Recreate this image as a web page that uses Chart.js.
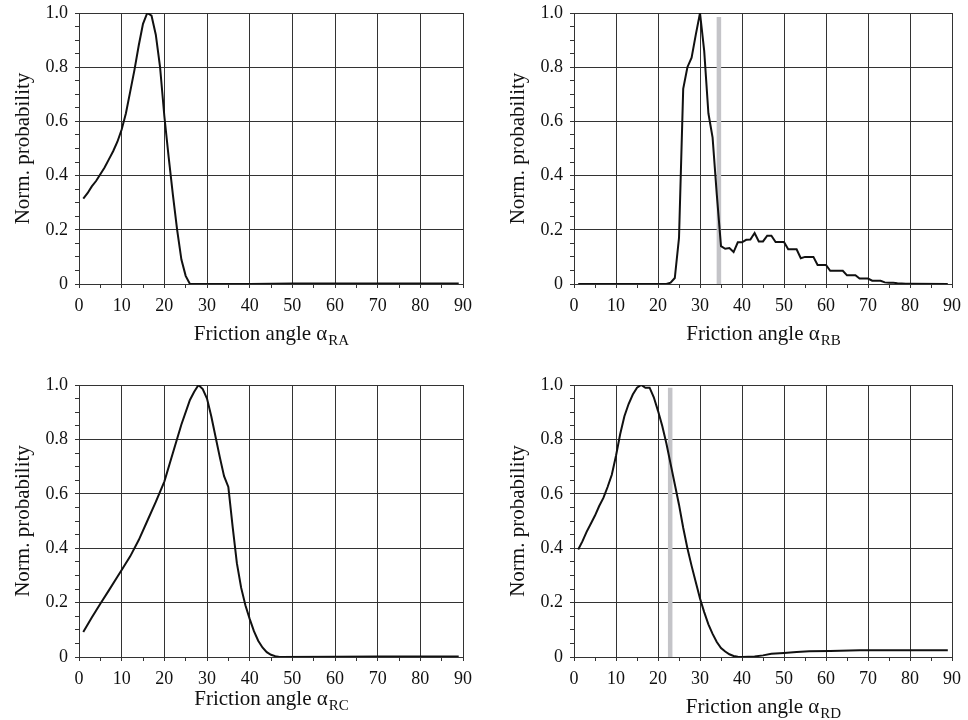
<!DOCTYPE html>
<html>
<head>
<meta charset="utf-8">
<script src="https://cdn.jsdelivr.net/npm/chart.js@4.4.1/dist/chart.umd.min.js"></script>
<style>
  body { margin: 0; background: #fff; }
  #wrap { position: relative; width: 968px; height: 720px; }
  canvas { position: absolute; }
</style>
</head>
<body>
<div id="wrap">
  <canvas id="cA"></canvas>
  <canvas id="cB"></canvas>
  <canvas id="cC"></canvas>
  <canvas id="cD"></canvas>
</div>
<script>
// data
const angleA = [1, 2, 3, 4, 5, 6, 7, 8, 9, 10, 11, 12, 13, 14, 15, 16, 17, 18, 19, 20, 21, 22, 23, 24, 25, 26, 30, 40, 50, 60, 70, 80, 89]
const probA = [0.315, 0.335, 0.36, 0.38, 0.405, 0.43, 0.46, 0.49, 0.525, 0.57, 0.63, 0.71, 0.79, 0.88, 0.96, 1.0, 0.99, 0.92, 0.80, 0.62, 0.47, 0.33, 0.20, 0.09, 0.03, 0, 0, 0, 0.002, 0.002, 0.002, 0.002, 0.002]

const angleB = [1, 22, 23, 24, 25, 26, 27, 28, 29, 30, 31, 32, 33, 34, 35, 36, 37, 38, 39, 40, 41, 42, 43, 44, 45, 46, 47, 48, 49, 50, 51, 52, 53, 54, 55, 56, 57, 58, 59, 60, 61, 62, 63, 64, 65, 66, 67, 68, 69, 70, 71, 72, 73, 74, 75, 76, 77, 78, 79, 80, 89]
const probB = [0, 0, 0.005, 0.022, 0.17, 0.72, 0.80, 0.835, 0.92, 1.0, 0.86, 0.63, 0.54, 0.33, 0.14, 0.13, 0.133, 0.118, 0.154, 0.154, 0.163, 0.164, 0.188, 0.157, 0.157, 0.178, 0.178, 0.155, 0.155, 0.155, 0.128, 0.128, 0.128, 0.095, 0.10, 0.10, 0.10, 0.07, 0.07, 0.07, 0.049, 0.049, 0.049, 0.049, 0.032, 0.032, 0.032, 0.02, 0.02, 0.02, 0.012, 0.012, 0.012, 0.006, 0.005, 0.005, 0.003, 0.002, 0.001, 0.001, 0]

const angleC = [1, 3, 5, 7, 9, 10, 12, 14, 16, 18, 20, 22, 24, 26, 27, 28, 29, 30, 31, 32, 33, 34, 35, 36, 37, 38, 39, 40, 41, 42, 43, 44, 45, 46, 47, 60, 70, 89]
const probC = [0.092, 0.145, 0.196, 0.245, 0.295, 0.32, 0.37, 0.43, 0.50, 0.57, 0.645, 0.75, 0.855, 0.945, 0.975, 1.0, 0.985, 0.95, 0.885, 0.81, 0.735, 0.665, 0.625, 0.48, 0.345, 0.255, 0.19, 0.14, 0.095, 0.06, 0.035, 0.018, 0.008, 0.003, 0, 0.001, 0.002, 0.002]

const angleD = [1, 2, 3, 4, 5, 6, 7, 8, 9, 10, 11, 12, 13, 14, 15, 16, 17, 18, 19, 20, 21, 22, 23, 24, 25, 26, 27, 28, 29, 30, 31, 32, 33, 34, 35, 36, 37, 38, 39, 40, 43, 45, 47, 50, 53, 56, 61, 68, 89]
const probD = [0.395, 0.425, 0.46, 0.49, 0.52, 0.555, 0.585, 0.625, 0.67, 0.74, 0.82, 0.885, 0.93, 0.965, 0.99, 1.0, 0.99, 0.99, 0.955, 0.905, 0.85, 0.785, 0.71, 0.635, 0.56, 0.475, 0.40, 0.335, 0.275, 0.215, 0.165, 0.12, 0.085, 0.055, 0.033, 0.02, 0.01, 0.004, 0.001, 0, 0.002, 0.006, 0.012, 0.015, 0.018, 0.021, 0.022, 0.025, 0.025]

// grey marker bars (angle, height)
const markerB = [34.5, 0.985]
const markerD = [22.9, 0.99]

const xTitle = 'Friction angle \u03b1'
const xTickLabels = [0, 10, 20, 30, 40, 50, 60, 70, 80, 90]
const yTickLabels = [0, 0.2, 0.4, 0.6, 0.8, 1.0]

const serif = '"Liberation Serif", "Times New Roman", serif'
const gridColor = '#333'

const isMajorY = v => yTickLabels.some(t => Math.abs(t - v) < 1e-6)
const isMajorX = v => xTickLabels.some(t => Math.abs(t - v) < 1e-6)

const titlePlugin = {
    id: 'titles',
    afterDraw(chart, args, opts) {
        const ctx = chart.ctx
        const area = chart.chartArea
        ctx.save()
        ctx.fillStyle = '#111'
        // y title
        ctx.font = `21px ${serif}`
        ctx.textAlign = 'center'
        ctx.textBaseline = 'middle'
        ctx.translate(opts.yTitleX, (area.top + area.bottom) / 2)
        ctx.rotate(-Math.PI / 2)
        ctx.fillText('Norm. probability', 0, 0)
        ctx.setTransform(1, 0, 0, 1, 0, 0)
        // x title with subscript
        ctx.textAlign = 'left'
        ctx.textBaseline = 'alphabetic'
        ctx.font = `21px ${serif}`
        const w1 = ctx.measureText(xTitle).width
        ctx.font = `15px ${serif}`
        const w2 = ctx.measureText(opts.sub).width
        const x0 = (area.left + area.right) / 2 - (w1 + w2) / 2
        ctx.font = `21px ${serif}`
        ctx.fillText(xTitle, x0, opts.xTitleY)
        ctx.font = `15px ${serif}`
        ctx.fillText(opts.sub, x0 + w1 + 1, opts.xTitleY + 5)
        ctx.restore()
    }
}

function makePanel(id, box, angles, probs, marker, sub) {
    const canvas = document.getElementById(id)
    canvas.width = box.w
    canvas.height = box.h
    canvas.style.left = box.x + 'px'
    canvas.style.top = box.y + 'px'

    const datasets = [{
        data: angles.map((a, i) => ({ x: a, y: probs[i] })),
        borderColor: '#111',
        borderWidth: 2,
        pointRadius: 0,
        tension: 0,
        order: 0
    }]
    if (marker) {
        datasets.push({
            data: [{ x: marker[0], y: 0 }, { x: marker[0], y: marker[1] }],
            borderColor: '#c4c4c8',
            borderWidth: 4.5,
            pointRadius: 0,
            order: 1
        })
    }

    new Chart(canvas, {
        type: 'line',
        data: { datasets },
        plugins: [titlePlugin],
        options: {
            responsive: false,
            animation: false,
            events: [],
            layout: { padding: { left: 0, top: box.top, right: box.right, bottom: 0 } },
            plugins: {
                legend: { display: false },
                tooltip: { enabled: false },
                titles: { sub, yTitleX: box.yTitleX, xTitleY: box.xTitleY }
            },
            scales: {
                x: {
                    type: 'linear',
                    min: 0,
                    max: 90,
                    afterFit: s => { s.height = box.xh },
                    ticks: {
                        stepSize: 5,
                        autoSkip: false,
                        maxRotation: 0,
                        padding: 7,
                        color: '#111',
                        font: { family: serif, size: 18 },
                        callback: v => isMajorX(v) ? String(Math.round(v)) : ''
                    },
                    grid: {
                        color: c => isMajorX(c.tick.value) ? gridColor : 'rgba(0,0,0,0)',
                        tickColor: gridColor,
                        tickLength: 4,
                        lineWidth: 1
                    },
                    border: { display: true, color: gridColor, width: 1 }
                },
                y: {
                    min: 0,
                    max: 1,
                    afterFit: s => {
                        s.width = box.yw
                        s.paddingTop = 0
                        s.paddingBottom = 0
                    },
                    ticks: {
                        stepSize: 0.05,
                        autoSkip: false,
                        padding: 7,
                        color: '#111',
                        font: { family: serif, size: 18 },
                        callback: v => isMajorY(v) ? (Math.abs(v) < 1e-6 ? '0' : v.toFixed(1)) : ''
                    },
                    grid: {
                        color: c => isMajorY(c.tick.value) ? gridColor : 'rgba(0,0,0,0)',
                        tickColor: gridColor,
                        tickLength: 4,
                        lineWidth: 1
                    },
                    border: { display: true, color: gridColor, width: 1 }
                }
            }
        }
    })
}

makePanel('cA', { x: 0, y: 0, w: 484, h: 345, top: 13, right: 21, yw: 79, xh: 61, yTitleX: 23, xTitleY: 340 }, angleA, probA, null, 'RA')
makePanel('cB', { x: 484, y: 0, w: 484, h: 345, top: 13, right: 10, yw: 90, xh: 61, yTitleX: 34, xTitleY: 340 }, angleB, probB, markerB, 'RB')
makePanel('cC', { x: 0, y: 345, w: 484, h: 375, top: 40, right: 21, yw: 79, xh: 63, yTitleX: 23, xTitleY: 360 }, angleC, probC, null, 'RC')
makePanel('cD', { x: 484, y: 345, w: 484, h: 375, top: 40, right: 10, yw: 90, xh: 63, yTitleX: 34, xTitleY: 368 }, angleD, probD, markerD, 'RD')
</script>
</body>
</html>
